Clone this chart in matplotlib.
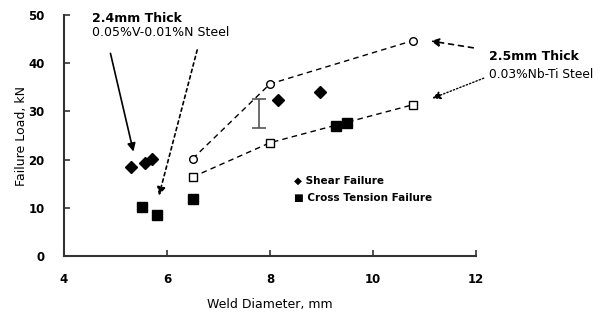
import matplotlib
matplotlib.use("Agg")
import matplotlib.pyplot as plt

plt.rcParams['font.family'] = ['DejaVu Sans']

# Shear failure (filled diamonds)
shear_x = [5.30, 5.57, 5.71, 8.16, 8.97]
shear_y = [18.4, 19.2, 20.1, 32.4, 34.0]
# Cross tension failure (filled squares)
cross_x = [5.51, 5.81, 6.50, 9.28, 9.50]
cross_y = [10.2, 8.5, 11.9, 26.9, 27.5]
# 2.5mm Nb-Ti steel: shear (open circles) and cross tension (open squares)
nb_shear_x = [6.50, 8.00, 10.78]
nb_shear_y = [20.2, 35.7, 44.7]
nb_cross_x = [6.50, 8.00, 10.78]
nb_cross_y = [16.4, 23.5, 31.4]
# error bar
err_x = [7.79]
err_low = [26.6]
err_high = [32.6]

x_ticks = [4, 6, 8, 10, 12]
y_ticks = [0, 10, 20, 30, 40, 50]

fig = plt.figure(figsize=(6.16, 3.16), dpi=100)
ax = fig.add_axes([64/616, 1-256/316, (476-64)/616, (256-15)/316])

ax.plot(nb_shear_x, nb_shear_y, linestyle=(0, (4, 3)), color='black', lw=1.0,
        marker='o', mfc='white', mec='black', ms=5.5, mew=1.0, zorder=3)
ax.plot(nb_cross_x, nb_cross_y, linestyle=(0, (4, 3)), color='black', lw=1.0,
        marker='s', mfc='white', mec='black', ms=5.5, mew=1.0, zorder=3)
ax.plot(shear_x, shear_y, linestyle='none', marker='D', color='black', ms=6.5, zorder=4)
ax.plot(cross_x, cross_y, linestyle='none', marker='s', color='black', ms=7.5, zorder=4)

mid = [(l + h) / 2 for l, h in zip(err_low, err_high)]
half = [(h - l) / 2 for l, h in zip(err_low, err_high)]
ax.errorbar(err_x, mid, yerr=half, fmt='none', ecolor='#555555', elinewidth=1.2,
            capsize=5, capthick=1.2)

ax.set_xlim(4, 12)
ax.set_ylim(0, 50)
ax.set_xticks(x_ticks)
ax.set_yticks(y_ticks)
for s in ['top', 'right']:
    ax.spines[s].set_visible(False)
for s in ['left', 'bottom']:
    ax.spines[s].set_color('#333333')
    ax.spines[s].set_linewidth(1.5)
ax.tick_params(direction='in', length=4, width=1.2, color='#333333',
               labelsize=8.5)
ax.tick_params(axis='y', pad=14)
ax.tick_params(axis='x', pad=12)
for lab in ax.get_xticklabels() + ax.get_yticklabels():
    lab.set_fontweight('bold')

ax.set_xlabel('Weld Diameter, mm', fontsize=9, labelpad=9)
ax.set_ylabel('Failure Load, kN', fontsize=9, labelpad=0)

# Legend-like text
fig.text(294/616, 1-181/316, '\u25c6 Shear Failure', fontsize=7.5,
         fontweight='bold', va='center')
fig.text(294/616, 1-198/316, '\u25a0 Cross Tension Failure',
         fontsize=7.5, fontweight='bold', va='center')

# Annotations
fig.text(92/616, 1-18/316, '2.4mm Thick', fontsize=9, fontweight='bold', va='center')
fig.text(92/616, 1-33/316, '0.05%V-0.01%N Steel', fontsize=9, va='center')
fig.text(489/616, 1-57/316, '2.5mm Thick', fontsize=9, fontweight='bold', va='center')
fig.text(489/616, 1-75/316, '0.03%Nb-Ti Steel', fontsize=8.8, va='center')

ax.annotate('', xy=(5.36, 21.1), xytext=(4.89, 42.6), annotation_clip=False,
            arrowprops=dict(arrowstyle='-|>', color='black', lw=1.2, mutation_scale=12))
ax.annotate('', xy=(5.83, 12.0), xytext=(6.60, 43.3), annotation_clip=False,
            arrowprops=dict(arrowstyle='-|>', color='black', lw=1.2, mutation_scale=12,
                            linestyle=(0, (2, 2))))
ax.annotate('', xy=(11.07, 44.7), xytext=(12.0, 43.1), annotation_clip=False,
            arrowprops=dict(arrowstyle='-|>', color='black', lw=1.2, mutation_scale=12,
                            linestyle=(0, (3, 3))))
ax.annotate('', xy=(11.1, 32.5), xytext=(12.2, 37.1), annotation_clip=False,
            arrowprops=dict(arrowstyle='-|>', color='black', lw=1.0, mutation_scale=12,
                            linestyle=(0, (1, 1.5))))

fig.savefig('out.png', dpi=100)
